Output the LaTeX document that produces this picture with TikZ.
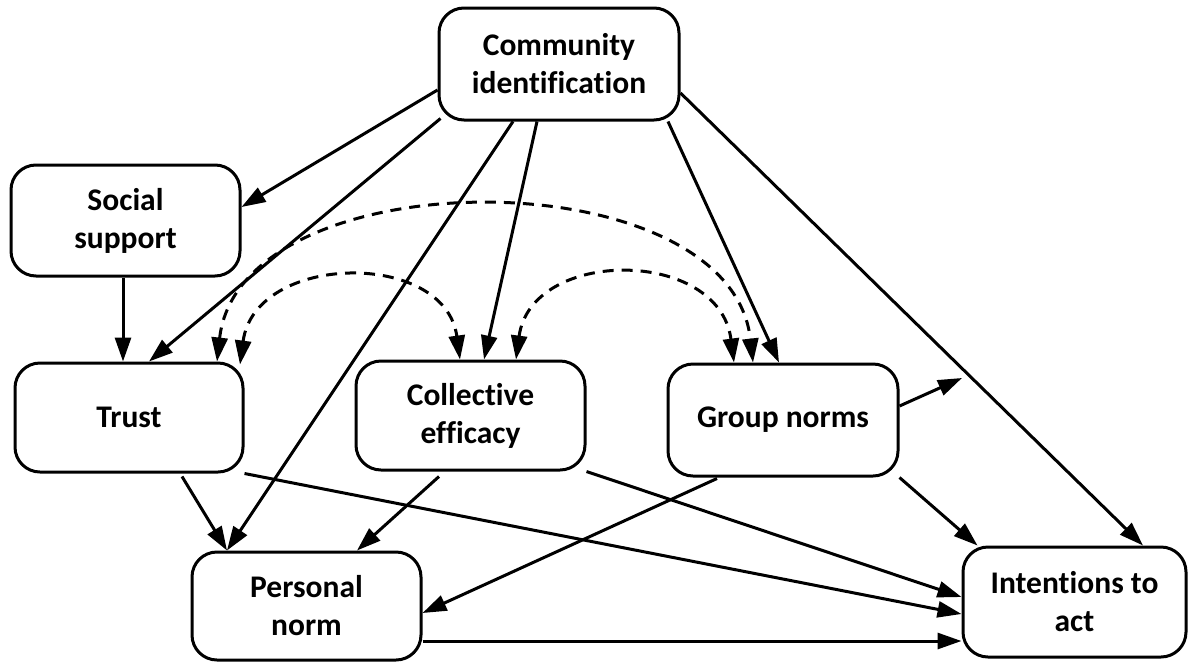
\documentclass[tikz,border=0pt]{standalone}
\usepackage{fontspec}
\setmainfont{Carlito}[Ligatures=CommonOff]
\usetikzlibrary{arrows.meta,calc}
\begin{document}
\begin{tikzpicture}[x=1pt,y=-1pt,
  box/.style={draw, line width=3pt, rounded corners=25pt, align=center,
    font=\fontsize{31.5}{38}\selectfont\bfseries, inner sep=0pt},
  tipA/.tip={Triangle[length=24pt,width=16pt]},
  link/.style={line width=3pt, -tipA},
  dlink/.style={line width=3pt, dash pattern=on 11pt off 8pt, tipA-tipA}]
\useasboundingbox (0,0) rectangle (1188,662);

\node[box, minimum width=240pt, minimum height=112pt] (com) at (559,64) {Community\\identification};
\node[box, minimum width=229pt, minimum height=111pt] (soc) at (125.5,220.5) {Social\\support};
\node[box, minimum width=228pt, minimum height=109pt] (tru) at (129,417.5) {Trust};
\node[box, minimum width=229pt, minimum height=109pt] (col) at (470.5,415.5) {Collective\\efficacy};
\node[box, minimum width=230pt, minimum height=112pt] (grp) at (783,420) {Group norms};
\node[box, minimum width=229pt, minimum height=108pt] (per) at (306.5,606) {Personal\\norm};
\node[box, minimum width=223pt, minimum height=110pt] (int) at (1074.5,602) {Intentions to\\act};
\coordinate (free) at (962,378);

\draw[link] ($(com.west)+(0,26)$) -- ($(soc.east)+(0,-13.5)$);
\draw[link] ($(com.south west)+(3,-3)$) -- ($(tru.north)+(20,0)$);
\draw[link] ($(com.south)+(-46,0)$) -- ($(per.north)+(-79.5,0)$);
\draw[link] ($(com.south)+(-22,0)$) -- ($(col.north)+(13.5,0)$);
\draw[link] ($(com.south)+(109,0)$) -- ($(grp.north)+(-4,0)$);
\draw[link] ($(com.east)+(0,29)$) -- ($(int.north)+(68.5,0)$);
\draw[link] ($(soc.south)+(-2.5,0)$) -- ($(tru.north)+(-6,0)$);
\draw[link] ($(tru.south)+(53,3)$) -- ($(per.north)+(-79.5,0)$);
\draw[link] (tru.south east) -- ($(int.west)+(0,12)$);
\draw[link] ($(col.south)+(-31.5,5)$) -- ($(per.north)+(50.5,0)$);
\draw[link] (col.south east) -- ($(int.west)+(0,-5)$);
\draw[link] ($(grp.south)+(-66,1)$) -- ($(per.east)+(0,7)$);
\draw[link] (grp.south east) -- ($(int.north west)+(16,0)$);
\draw[link] ($(grp.east)+(0,-14)$) -- (free);
\draw[link] ($(per.east)+(0,35)$) -- ($(int.west)+(0,39)$);

\draw[dlink] ($(tru.north)+(88,0)$) .. controls +(23,-205) and +(-23,-206) .. ($(grp.north)+(-30,0)$);
\draw[dlink] ($(tru.north)+(111,3)$) .. controls +(15,-112) and +(-15,-110) .. ($(col.north)+(-10.5,0)$);
\draw[dlink] ($(col.north)+(45.5,0)$) .. controls +(15,-112) and +(-15,-115) .. ($(grp.north)+(-49,0)$);
\end{tikzpicture}
\end{document}
